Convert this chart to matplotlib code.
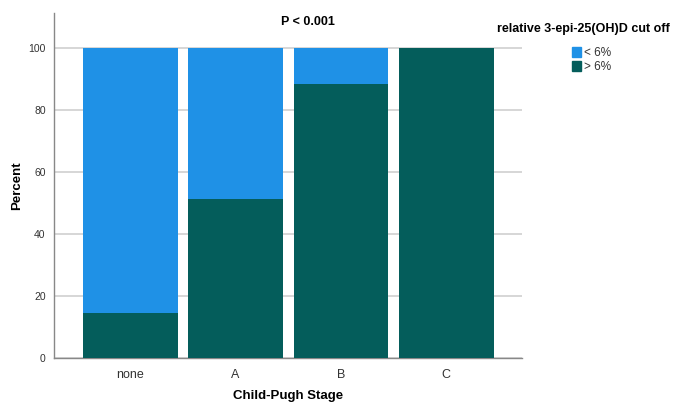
import numpy as np
import matplotlib
matplotlib.use('Agg')
from matplotlib import pyplot as plt
from matplotlib.patches import Patch

stages = ['none', 'A', 'B', 'C']
above_6 = [14.5, 51.3, 88.4, 100.0]
below_6 = [100 - v for v in above_6]
series_labels = ['< 6%', '> 6%']
c_light = '#1F91E6'
c_dark = '#045D5B'

plt.rcParams['font.family'] = ['Liberation Sans', 'DejaVu Sans']

fig = plt.figure(figsize=(6.78, 4.05), dpi=100)
ax = fig.add_axes([54/678, 1 - 358/405, 468/678, 345/405])

x = np.arange(len(stages))
ax.bar(x, above_6, width=0.9, color=c_dark, zorder=3)
ax.bar(x, below_6, width=0.9, bottom=above_6, color=c_light, zorder=3)

ax.set_xlim(-0.725, 3.72)
ax.set_ylim(0, 111.3)
ax.set_yticks([0, 20, 40, 60, 80, 100])
ax.yaxis.grid(True, color='#d0d0d0', linewidth=1.2, zorder=0)
ax.set_xticks(x)
ax.set_xticklabels(stages, fontsize=9, color='#333333')
ax.tick_params(axis='y', labelsize=7.5, colors='#333333', length=0, pad=6)
ax.tick_params(axis='x', length=0, pad=8)
for s in ['top', 'right']:
    ax.spines[s].set_visible(False)
for s in ['left', 'bottom']:
    ax.spines[s].set_color('#888888')
    ax.spines[s].set_linewidth(1)

ax.set_xlabel('Child-Pugh Stage', fontsize=9.5, fontweight='bold')
ax.set_ylabel('Percent', fontsize=9.5, fontweight='bold')
ax.xaxis.set_label_coords(0.5, (358 - 396) / 345)
ax.yaxis.set_label_coords((17 - 54) / 468, 0.5)
ax.xaxis.label.set_va('center')
ax.yaxis.label.set_va('center')

fig.text(308/678, 1 - 22/405, 'P < 0.001', fontsize=9, fontweight='bold',
         ha='center', va='center')
fig.text(583/678, 1 - 29/405, 'relative 3-epi-25(OH)D cut off', fontsize=9,
         fontweight='bold', ha='center', va='center')

handles = [Patch(color=c_light), Patch(color=c_dark)]
leg = fig.legend(handles, series_labels, loc='upper left',
                 bbox_to_anchor=(566/678, 1 - 41/405), frameon=False,
                 fontsize=8.5, handlelength=0.8, handleheight=0.9,
                 handletextpad=0.2, labelspacing=0.2, borderpad=0)
for t in leg.get_texts():
    t.set_color('#333333')

fig.savefig('out.png', dpi=100)
